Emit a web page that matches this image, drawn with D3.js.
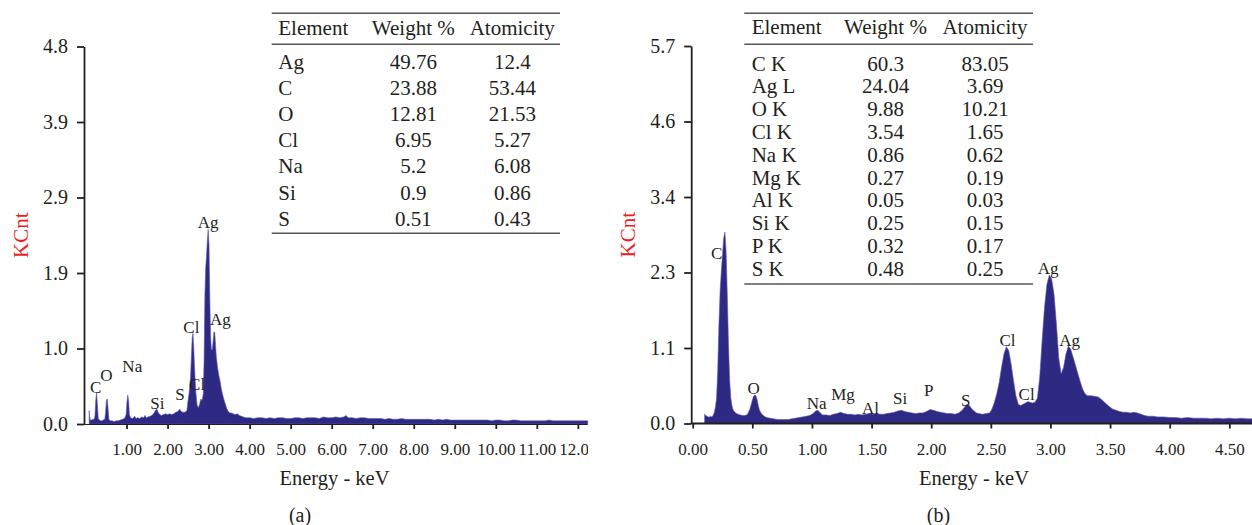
<!DOCTYPE html>
<html lang="en">
<head>
<meta charset="UTF-8">
<title>EDX spectra (a) and (b)</title>
<script src="https://d3js.org/d3.v7.min.js"></script>
<style>
  body { margin: 0; background: #fff; overflow: hidden; }
  svg { display: block; font-family: "Liberation Serif", "Times New Roman", serif; }
  svg text { font-family: "Liberation Serif", "Times New Roman", serif; }
  .axis path, .axis line { stroke: #231f20; stroke-width: 1.8px; }
  .axis text { fill: #231f20; }
  .ytick text { font-size: 20px; }
  .xtick text { font-size: 17px; }
  .spectrum { fill: #2e2a84; stroke: #5a55b0; stroke-width: 0.6px; }
  .peak { font-size: 17px; fill: #231f20; }
  .tbl text { font-size: 21px; fill: #231f20; }
  .tbl line { stroke: #555; stroke-width: 1.5px; }
  .ylab { font-size: 21px; fill: #ed1c24; }
  .xlab { font-size: 20.5px; fill: #231f20; }
  .cap { font-size: 20px; fill: #231f20; }
</style>
</head>
<body>
<script>
// ---- panel (a) spectrum, keV / KCnt
const energyA = [0.09,0.10,0.12,0.15,0.18,0.21,0.23,0.25,0.27,0.29,0.31,0.34,0.37,0.40,0.43,0.47,0.49,0.51,0.53,0.55,0.57,0.60,0.65,0.70,0.75,0.80,0.85,0.90,0.95,0.99,
  1.01,1.03,1.05,1.07,1.10,1.15,1.20,1.23,1.27,1.32,1.37,1.42,1.45,1.48,1.52,1.57,1.62,1.67,1.71,1.74,1.77,1.81,1.85,1.90,1.95,2.00,2.05,2.10,2.15,2.20,2.25,2.30,2.33,2.37,2.42,2.47,
  2.50,2.53,2.56,2.58,2.60,2.62,2.64,2.66,2.69,2.72,2.75,2.78,2.81,2.84,2.87,2.89,2.91,2.93,2.95,2.97,2.99,3.01,3.03,3.05,3.07,3.09,3.11,3.13,3.15,3.17,3.19,3.22,3.25,3.28,
  3.31,3.34,3.37,3.40,3.44,3.48,3.52,3.56,3.60,3.65,3.70,3.75,3.80,3.85,3.90,3.95,4.0,4.1,4.2,4.3,4.4,4.5,4.6,4.7,4.8,4.9,5.0,5.1,5.2,5.3,5.4,5.5,5.6,5.7,5.8,5.9,6.0,
  6.1,6.2,6.3,6.35,6.4,6.5,6.6,6.7,6.8,6.9,7.0,7.1,7.2,7.3,7.4,7.5,7.6,7.7,7.8,7.9,8.0,8.1,8.2,8.3,8.4,8.5,8.6,8.7,8.8,8.9,9.0,9.1,9.2,9.3,9.4,9.5,9.6,9.7,9.8,9.9,
  10.0,10.1,10.2,10.3,10.4,10.5,10.6,10.7,10.8,10.9,11.0,11.1,11.2,11.3,11.4,11.5,11.6,11.7,11.8,11.9,12.0,12.1,12.24];
const countA = [0.17,0.10,0.05,0.05,0.06,0.06,0.10,0.30,0.40,0.25,0.07,0.05,0.04,0.04,0.05,0.06,0.15,0.30,0.32,0.20,0.06,0.04,0.04,0.03,0.04,0.04,0.05,0.06,0.07,0.12,
  0.28,0.37,0.30,0.12,0.08,0.07,0.10,0.07,0.08,0.07,0.09,0.08,0.11,0.08,0.09,0.10,0.11,0.14,0.18,0.19,0.15,0.12,0.11,0.12,0.13,0.12,0.13,0.12,0.13,0.15,0.16,0.19,0.16,0.15,0.15,0.17,
  0.30,0.42,0.60,0.85,1.10,1.16,0.95,0.70,0.40,0.24,0.21,0.25,0.32,0.30,0.38,0.80,1.65,2.00,2.15,2.35,2.49,2.30,1.60,1.10,0.95,0.95,1.05,1.18,1.17,1.00,0.85,0.72,0.62,0.55,
  0.45,0.38,0.32,0.27,0.20,0.16,0.14,0.14,0.13,0.12,0.13,0.11,0.10,0.09,0.08,0.08,0.08,0.07,0.08,0.08,0.07,0.08,0.07,0.08,0.08,0.07,0.07,0.08,0.08,0.07,0.08,0.08,0.08,0.07,0.09,0.08,0.08,
  0.09,0.08,0.09,0.11,0.08,0.08,0.07,0.08,0.08,0.07,0.07,0.07,0.07,0.06,0.07,0.06,0.06,0.07,0.06,0.06,0.06,0.06,0.06,0.06,0.06,0.05,0.06,0.05,0.06,0.05,0.05,0.05,0.05,0.05,0.05,0.05,0.05,0.05,0.05,0.04,
  0.05,0.05,0.04,0.04,0.05,0.05,0.04,0.04,0.04,0.04,0.04,0.04,0.04,0.05,0.04,0.04,0.04,0.04,0.04,0.04,0.04,0.04,0.04];

// ---- panel (b) spectrum
const energyB = [0.10,0.11,0.12,0.13,0.14,0.15,0.16,0.17,0.18,0.19,0.20,0.21,0.22,0.23,0.24,0.25,0.26,0.27,0.28,0.29,0.30,0.31,0.32,0.33,0.34,0.36,0.38,0.40,0.42,0.44,
  0.46,0.48,0.50,0.51,0.52,0.53,0.54,0.55,0.56,0.58,0.60,0.62,0.65,0.68,0.71,0.74,0.77,0.80,0.83,0.86,0.89,0.92,0.95,0.98,1.01,1.03,1.05,1.07,1.09,1.12,
  1.15,1.18,1.21,1.24,1.27,1.30,1.33,1.36,1.39,1.42,1.45,1.48,1.51,1.54,1.57,1.60,1.63,1.66,1.69,1.72,1.75,1.78,1.81,1.84,1.87,1.90,1.93,1.96,1.99,2.02,
  2.05,2.08,2.11,2.14,2.17,2.20,2.23,2.26,2.28,2.30,2.32,2.34,2.36,2.38,2.40,2.43,2.46,2.49,2.51,2.53,2.55,2.57,2.59,2.61,2.63,2.65,2.67,2.69,2.71,2.73,
  2.75,2.77,2.79,2.81,2.83,2.85,2.87,2.89,2.91,2.93,2.95,2.97,2.99,3.01,3.03,3.05,3.07,3.09,3.11,3.13,3.15,3.17,3.19,3.21,3.23,3.25,3.27,3.29,3.31,3.34,
  3.37,3.40,3.43,3.46,3.49,3.52,3.55,3.58,3.61,3.64,3.67,3.70,3.73,3.76,3.79,3.82,3.86,3.90,3.95,4.00,4.05,4.10,4.15,4.20,4.25,4.30,4.35,4.40,4.45,4.50,4.55,4.60,4.65,4.70];
const countB = [0.14,0.12,0.11,0.10,0.10,0.11,0.10,0.12,0.16,0.24,0.38,0.80,1.50,2.00,2.30,2.55,2.80,2.89,2.60,1.95,1.20,0.65,0.38,0.26,0.20,0.16,0.14,0.13,0.12,0.12,
  0.14,0.22,0.35,0.41,0.43,0.42,0.36,0.27,0.20,0.14,0.11,0.09,0.08,0.07,0.06,0.06,0.06,0.06,0.07,0.08,0.09,0.10,0.11,0.12,0.15,0.19,0.20,0.16,0.13,0.13,
  0.12,0.14,0.15,0.17,0.15,0.14,0.14,0.13,0.14,0.13,0.14,0.15,0.14,0.15,0.14,0.14,0.15,0.16,0.17,0.19,0.20,0.18,0.17,0.16,0.15,0.16,0.16,0.18,0.21,0.20,
  0.18,0.17,0.16,0.15,0.15,0.14,0.16,0.20,0.25,0.29,0.27,0.22,0.19,0.16,0.15,0.14,0.15,0.16,0.22,0.32,0.45,0.62,0.85,1.05,1.16,1.10,0.90,0.65,0.42,0.29,
  0.27,0.29,0.31,0.33,0.32,0.31,0.32,0.38,0.70,1.25,1.75,2.10,2.24,2.18,1.95,1.50,0.98,0.75,0.85,1.05,1.17,1.12,1.00,0.88,0.75,0.63,0.52,0.45,0.42,0.42,
  0.41,0.40,0.36,0.31,0.26,0.22,0.20,0.18,0.17,0.17,0.16,0.17,0.16,0.14,0.12,0.11,0.11,0.10,0.10,0.09,0.09,0.08,0.09,0.08,0.08,0.08,0.07,0.08,0.07,0.08,0.07,0.08,0.07,0.07];

// y ticks (labels rounded to one decimal)
const yTicksA = [0, 0.966, 1.932, 2.898, 3.864, 4.83];
const yTicksB = [0, 1.14, 2.28, 3.42, 4.56, 5.7];
const xTicksA = [1, 2, 3, 4, 5, 6, 7, 8, 9, 10, 11, 12];
const xTicksB = [0, 0.5, 1, 1.5, 2, 2.5, 3, 3.5, 4, 4.5];

// peak labels: name, energy, KCnt where the label sits
const peakNameA = ["C", "O", "Na", "Si", "S", "Cl", "Cl", "Ag", "Ag"];
const peakEA    = [0.25, 0.51, 1.14, 1.75, 2.30, 2.72, 2.58, 2.99, 3.29];
const peakKA    = [0.47, 0.62, 0.74, 0.27, 0.38, 0.51, 1.24, 2.59, 1.34];
const peakNameB = ["C", "O", "Na", "Mg", "Al", "Si", "P", "S", "Cl", "Cl", "Ag", "Ag"];
const peakEB    = [0.20, 0.51, 1.04, 1.26, 1.49, 1.74, 1.98, 2.29, 2.64, 2.80, 2.98, 3.16];
const peakKB    = [2.58, 0.53, 0.31, 0.44, 0.24, 0.38, 0.51, 0.35, 1.26, 0.44, 2.34, 1.26];

// composition tables
const tableHead = ["Element", "Weight %", "Atomicity"];
const elementsA = ["Ag", "C", "O", "Cl", "Na", "Si", "S"];
const weightA   = ["49.76", "23.88", "12.81", "6.95", "5.2", "0.9", "0.51"];
const atomicA   = ["12.4", "53.44", "21.53", "5.27", "6.08", "0.86", "0.43"];
const elementsB = ["C K", "Ag L", "O K", "Cl K", "Na K", "Mg K", "Al K", "Si K", "P K", "S K"];
const weightB   = ["60.3", "24.04", "9.88", "3.54", "0.86", "0.27", "0.05", "0.25", "0.32", "0.48"];
const atomicB   = ["83.05", "3.69", "10.21", "1.65", "0.62", "0.19", "0.03", "0.15", "0.17", "0.25"];

const svg = d3.select('body').append('svg')
  .attr('width', 1252)
  .attr('height', 525);

svg.append('defs').append('clipPath').attr('id', 'clipA')
  .append('rect').attr('x', 0).attr('y', 0).attr('width', 588).attr('height', 525);

function drawPanel(p) {
  const g = svg.append('g');
  const pts = d3.zip(p.energy, p.count);

  const area = d3.area()
    .x(d => p.x(d[0]))
    .y0(p.y(0))
    .y1(d => p.y(d[1]));

  g.append('path')
    .datum(pts)
    .attr('class', 'spectrum')
    .attr('d', area);

  const x0 = p.x(0) - 1.5;
  const xEnd = p.x.range()[1];

  // x axis
  const xa = g.append('g')
    .attr('class', 'axis xtick')
    .attr('transform', `translate(0,${p.y(0)})`)
    .call(d3.axisBottom(p.x)
      .tickValues(p.xTicks)
      .tickFormat(d3.format('.2f'))
      .tickSize(5)
      .tickSizeOuter(0)
      .tickPadding(14));
  xa.select('.domain').attr('d', `M${x0},0H${xEnd}`);
  if (p.clip) xa.attr('clip-path', p.clip);

  // y axis
  g.append('g')
    .attr('class', 'axis ytick')
    .attr('transform', `translate(${x0},0)`)
    .call(d3.axisLeft(p.y)
      .tickValues(p.yTicks)
      .tickFormat(d3.format('.1f'))
      .tickSize(7)
      .tickSizeOuter(0)
      .tickPadding(9));

  g.selectAll('.axis').attr('font-family', null).attr('font-size', null);

  // peak labels
  g.append('g').selectAll('text')
    .data(p.peakName)
    .join('text')
    .attr('class', 'peak')
    .attr('x', (d, i) => p.x(p.peakE[i]))
    .attr('y', (d, i) => p.y(p.peakK[i]))
    .attr('dy', '0.35em')
    .attr('text-anchor', 'middle')
    .text(d => d);

  // axis titles
  g.append('text')
    .attr('class', 'ylab')
    .attr('transform', `translate(${p.yLabX},${(p.y.range()[0] + p.y.range()[1]) / 2}) rotate(-90)`)
    .attr('dy', '0.35em')
    .attr('text-anchor', 'middle')
    .text('KCnt');

  g.append('text')
    .attr('class', 'xlab')
    .attr('x', p.xLabX)
    .attr('y', 485)
    .attr('text-anchor', 'middle')
    .text('Energy - keV');

  g.append('text')
    .attr('class', 'cap')
    .attr('x', p.capX)
    .attr('y', 522)
    .attr('text-anchor', 'middle')
    .text(p.cap);

  // table
  const t = p.table;
  const tg = g.append('g').attr('class', 'tbl');
  [t.top, t.head, t.bottom].forEach(yy => {
    tg.append('line').attr('x1', t.x1).attr('x2', t.x2).attr('y1', yy).attr('y2', yy);
  });
  const colX = [t.c1, t.c2, t.c3];
  const anchors = ['start', 'middle', 'middle'];
  tableHead.forEach((h, j) => {
    tg.append('text').attr('x', colX[j]).attr('y', t.headY).attr('dy', '0.35em')
      .attr('text-anchor', anchors[j]).text(h);
  });
  t.rows[0].forEach((_, i) => {
    t.rows.forEach((col, j) => {
      tg.append('text').attr('x', colX[j]).attr('y', t.row0 + i * t.step).attr('dy', '0.35em')
        .attr('text-anchor', anchors[j]).text(col[i]);
    });
  });
}

drawPanel({
  energy: energyA, count: countA,
  x: d3.scaleLinear().domain([0, 12.24]).range([85.5, 587.7]),
  y: d3.scaleLinear().domain([0, 4.83]).range([424, 46.5]),
  xTicks: xTicksA, yTicks: yTicksA,
  peakName: peakNameA, peakE: peakEA, peakK: peakKA,
  clip: 'url(#clipA)',
  yLabX: 21, xLabX: 334.5, capX: 300, cap: '(a)',
  table: { x1: 271.7, x2: 560, top: 13.3, head: 44.3, bottom: 233.3, headY: 28,
           c1: 278.3, c2: 413.3, c3: 512.3, row0: 61.7, step: 26.1,
           rows: [elementsA, weightA, atomicA] }
});

drawPanel({
  energy: energyB, count: countB,
  x: d3.scaleLinear().domain([0, 4.69]).range([692.7, 1252]),
  y: d3.scaleLinear().domain([0, 5.7]).range([423.5, 46]),
  xTicks: xTicksB, yTicks: yTicksB,
  peakName: peakNameB, peakE: peakEB, peakK: peakKB,
  clip: null,
  yLabX: 628, xLabX: 974, capX: 938.5, cap: '(b)',
  table: { x1: 744.3, x2: 1033, top: 13.3, head: 44.3, bottom: 284, headY: 27,
           c1: 751.7, c2: 885.5, c3: 985, row0: 63.3, step: 22.78,
           rows: [elementsB, weightB, atomicB] }
});
</script>
</body>
</html>
